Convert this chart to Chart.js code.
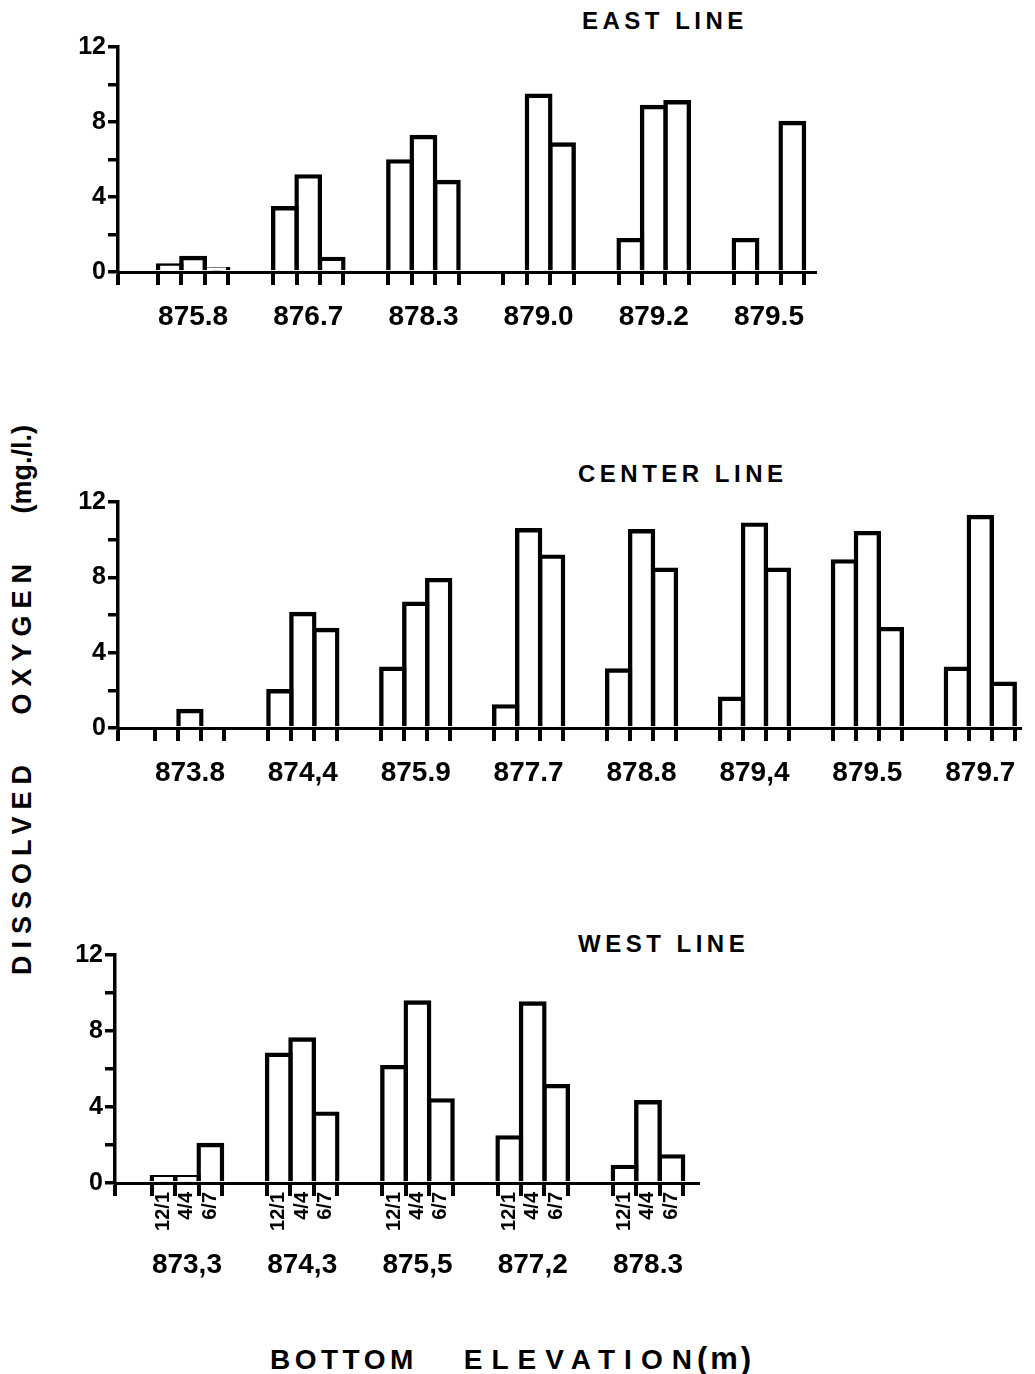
<!DOCTYPE html>
<html>
<head>
<meta charset="utf-8">
<script src="https://cdn.jsdelivr.net/npm/chart.js@4.4.1/dist/chart.umd.min.js"></script>
<style>
  body { margin: 0; background: #fff; }
  #page { position: relative; width: 1035px; height: 1374px; overflow: hidden;
          font-family: "Liberation Sans", Arial, sans-serif; font-weight: bold; color: #000; }
  canvas { position: absolute; left: 0; }
  .title { position: absolute; font-size: 24px; letter-spacing: 4.5px; white-space: pre; line-height: 1; }
  #ytitle { position: absolute; left: 22px; top: 700px; font-size: 27px; letter-spacing: 7px; word-spacing: 29px;
            white-space: pre; line-height: 1; transform: translate(-50%, -50%) rotate(-90deg); }
  #ytitle span { letter-spacing: 0; }
  #xtitle { position: absolute; left: 270px; top: 1343px; font-size: 28px; white-space: pre; line-height: 1; }
  #xtitle .w1 { letter-spacing: 4.5px; }
  #xtitle .w2 { letter-spacing: 9px; margin-left: 46px; }
  #xtitle .w3 { letter-spacing: 3px; font-size: 31px; margin-left: -4px; }
</style>
</head>
<body>
<div id="page">
  <div class="title" style="left:582px; top:9px;">EAST LINE</div>
  <div class="title" style="left:578px; top:462px;">CENTER LINE</div>
  <div class="title" style="left:578px; top:932px;">WEST LINE</div>
  <div id="ytitle">DISSOLVED OXYGEN <span>(mg./l.)</span></div>
  <div id="xtitle"><span class="w1">BOTTOM</span><span class="w2">ELEVATION</span><span class="w3">(m)</span></div>

  <canvas id="eastChart" width="1035" height="341" style="top:0px"></canvas>
  <canvas id="centerChart" width="1035" height="447" style="top:350px"></canvas>
  <canvas id="westChart" width="1035" height="467" style="top:820px"></canvas>
</div>

<script>
// sampling dates (one bar per date in every group)
const dateLabels = ['12/1', '4/4', '6/7'];

// y axis
const yTicks = [0, 2, 4, 6, 8, 10, 12];
const yLabels = [0, 4, 8, 12];

// East line
const eastCats = ['875.8', '876.7', '878.3', '879.0', '879.2', '879.5'];
const eastDec = [0.35, 3.4, 5.9, null, 1.7, 1.7];
const eastApr = [0.75, 5.1, 7.2, 9.4, 8.8, null];
const eastJun = [0.15, 0.7, 4.8, 6.8, 9.05, 7.95];

// Center line
const centerCats = ['873.8', '874,4', '875.9', '877.7', '878.8', '879,4', '879.5', '879.7'];
const centerDec = [null, 1.95, 3.15, 1.15, 3.05, 1.55, 8.85, 3.15];
const centerApr = [0.9, 6.05, 6.6, 10.5, 10.45, 10.8, 10.35, 11.2];
const centerJun = [null, 5.2, 7.85, 9.1, 8.4, 8.4, 5.25, 2.35];

// West line
const westCats = ['873,3', '874,3', '875,5', '877,2', '878.3'];
const westDec = [0.3, 6.75, 6.1, 2.4, 0.85];
const westApr = [0.3, 7.55, 9.5, 9.45, 4.25];
const westJun = [2.0, 3.65, 4.35, 5.1, 1.4];

Chart.defaults.font.family = '"Liberation Sans", Arial, sans-serif';
Chart.defaults.font.weight = 'bold';
Chart.defaults.color = '#000';

const GROUP = 0.61; // part of each category taken by its 3 bars

// positions of bar edges, used for the little ticks under the axis
function barEdges(n) {
    const out = [];
    for (let i = 0; i < n; i++) {
        for (let k = 0; k <= 3; k++) out.push(i - GROUP / 2 + k * GROUP / 3);
    }
    return out;
}

function barCenters(n) {
    const out = [];
    for (let i = 0; i < n; i++) {
        for (let k = 0; k < 3; k++) out.push(i - GROUP / 2 + (k + 0.5) * GROUP / 3);
    }
    return out;
}

function makePanel(id, cats, series, p) {
    const n = cats.length;

    const scales = {
        y: {
            type: 'linear', min: 0, max: 12,
            afterBuildTicks: s => { s.ticks = yTicks.map(v => ({ value: v })); },
            ticks: {
                callback: v => yLabels.includes(v) ? String(v) : '',
                font: { size: 25, weight: 'bold' }, color: '#000', padding: 2
            },
            grid: { drawOnChartArea: false, tickLength: 10, lineWidth: 3.5, color: '#000' },
            border: { color: '#000', width: 3.5 },
            afterFit: s => { s.width = p.left; }
        },
        // axis line + tick marks at every bar edge, drawn above the bars
        edges: {
            type: 'linear', axis: 'x', position: 'bottom', min: p.min, max: p.max, weight: 1, offset: false, z: 1,
            afterBuildTicks: s => { s.ticks = [p.min, ...barEdges(n)].map(v => ({ value: v })); },
            ticks: { callback: () => '', autoSkip: false, maxRotation: 0 },
            grid: { offset: false, drawOnChartArea: false, drawTicks: true, tickLength: 13, lineWidth: 4, color: '#000' },
            border: { display: true, color: '#000', width: 3 },
            afterFit: s => { s.height = 9; }
        },
        x: {
            type: 'linear', axis: 'x', position: 'bottom', min: p.min, max: p.max, weight: 3, offset: false,
            afterBuildTicks: s => { s.ticks = cats.map((c, i) => ({ value: i })); },
            ticks: {
                callback: (v, i) => cats[i], autoSkip: false, maxRotation: 0,
                font: { size: 28, weight: 'bold' }, color: '#000', padding: p.labelPad
            },
            grid: { display: false, drawTicks: false, offset: false },
            border: { display: false },
            afterFit: s => { s.height = p.labelH; }
        }
    };

    if (p.dates) {
        scales.dates = {
            type: 'linear', axis: 'x', position: 'bottom', min: p.min, max: p.max, weight: 2, offset: false,
            afterBuildTicks: s => { s.ticks = barCenters(n).map(v => ({ value: v })); },
            ticks: {
                callback: (v, i) => dateLabels[i % 3], autoSkip: false, minRotation: 90, maxRotation: 90,
                font: { size: 20, weight: 'bold' }, color: '#000', padding: 0
            },
            grid: { display: false, drawTicks: false, offset: false },
            border: { display: false },
            afterFit: s => { s.height = p.datesH; }
        };
    }

    return new Chart(document.getElementById(id), {
        type: 'bar',
        data: {
            datasets: series.map((vals, k) => ({
                label: dateLabels[k],
                data: vals.map((v, i) => ({ x: i, y: v })),
                xAxisID: 'x', yAxisID: 'y',
                backgroundColor: '#fff',
                borderColor: '#000',
                borderWidth: 4.4,
                inflateAmount: 2.2,
                borderSkipped: 'bottom',
                categoryPercentage: GROUP,
                barPercentage: 1
            }))
        },
        options: {
            responsive: false,
            animation: false,
            devicePixelRatio: 1,
            layout: { padding: { top: p.top, right: p.right, left: 0, bottom: 0 } },
            plugins: { legend: { display: false }, tooltip: { enabled: false } },
            scales: scales
        }
    });
}

makePanel('eastChart', eastCats, [eastDec, eastApr, eastJun],
    { left: 118, top: 47, right: 220, min: -0.652, max: 5.4, labelPad: 19, labelH: 60 });

makePanel('centerChart', centerCats, [centerDec, centerApr, centerJun],
    { left: 118, top: 152, right: 2, min: -0.637, max: 7.35, labelPad: 19, labelH: 60 });

makePanel('westChart', westCats, [westDec, westApr, westJun],
    { left: 115, top: 135, right: 337, min: -0.624, max: 4.434, labelPad: 6, labelH: 45, dates: true, datesH: 50 });
</script>
</body>
</html>
